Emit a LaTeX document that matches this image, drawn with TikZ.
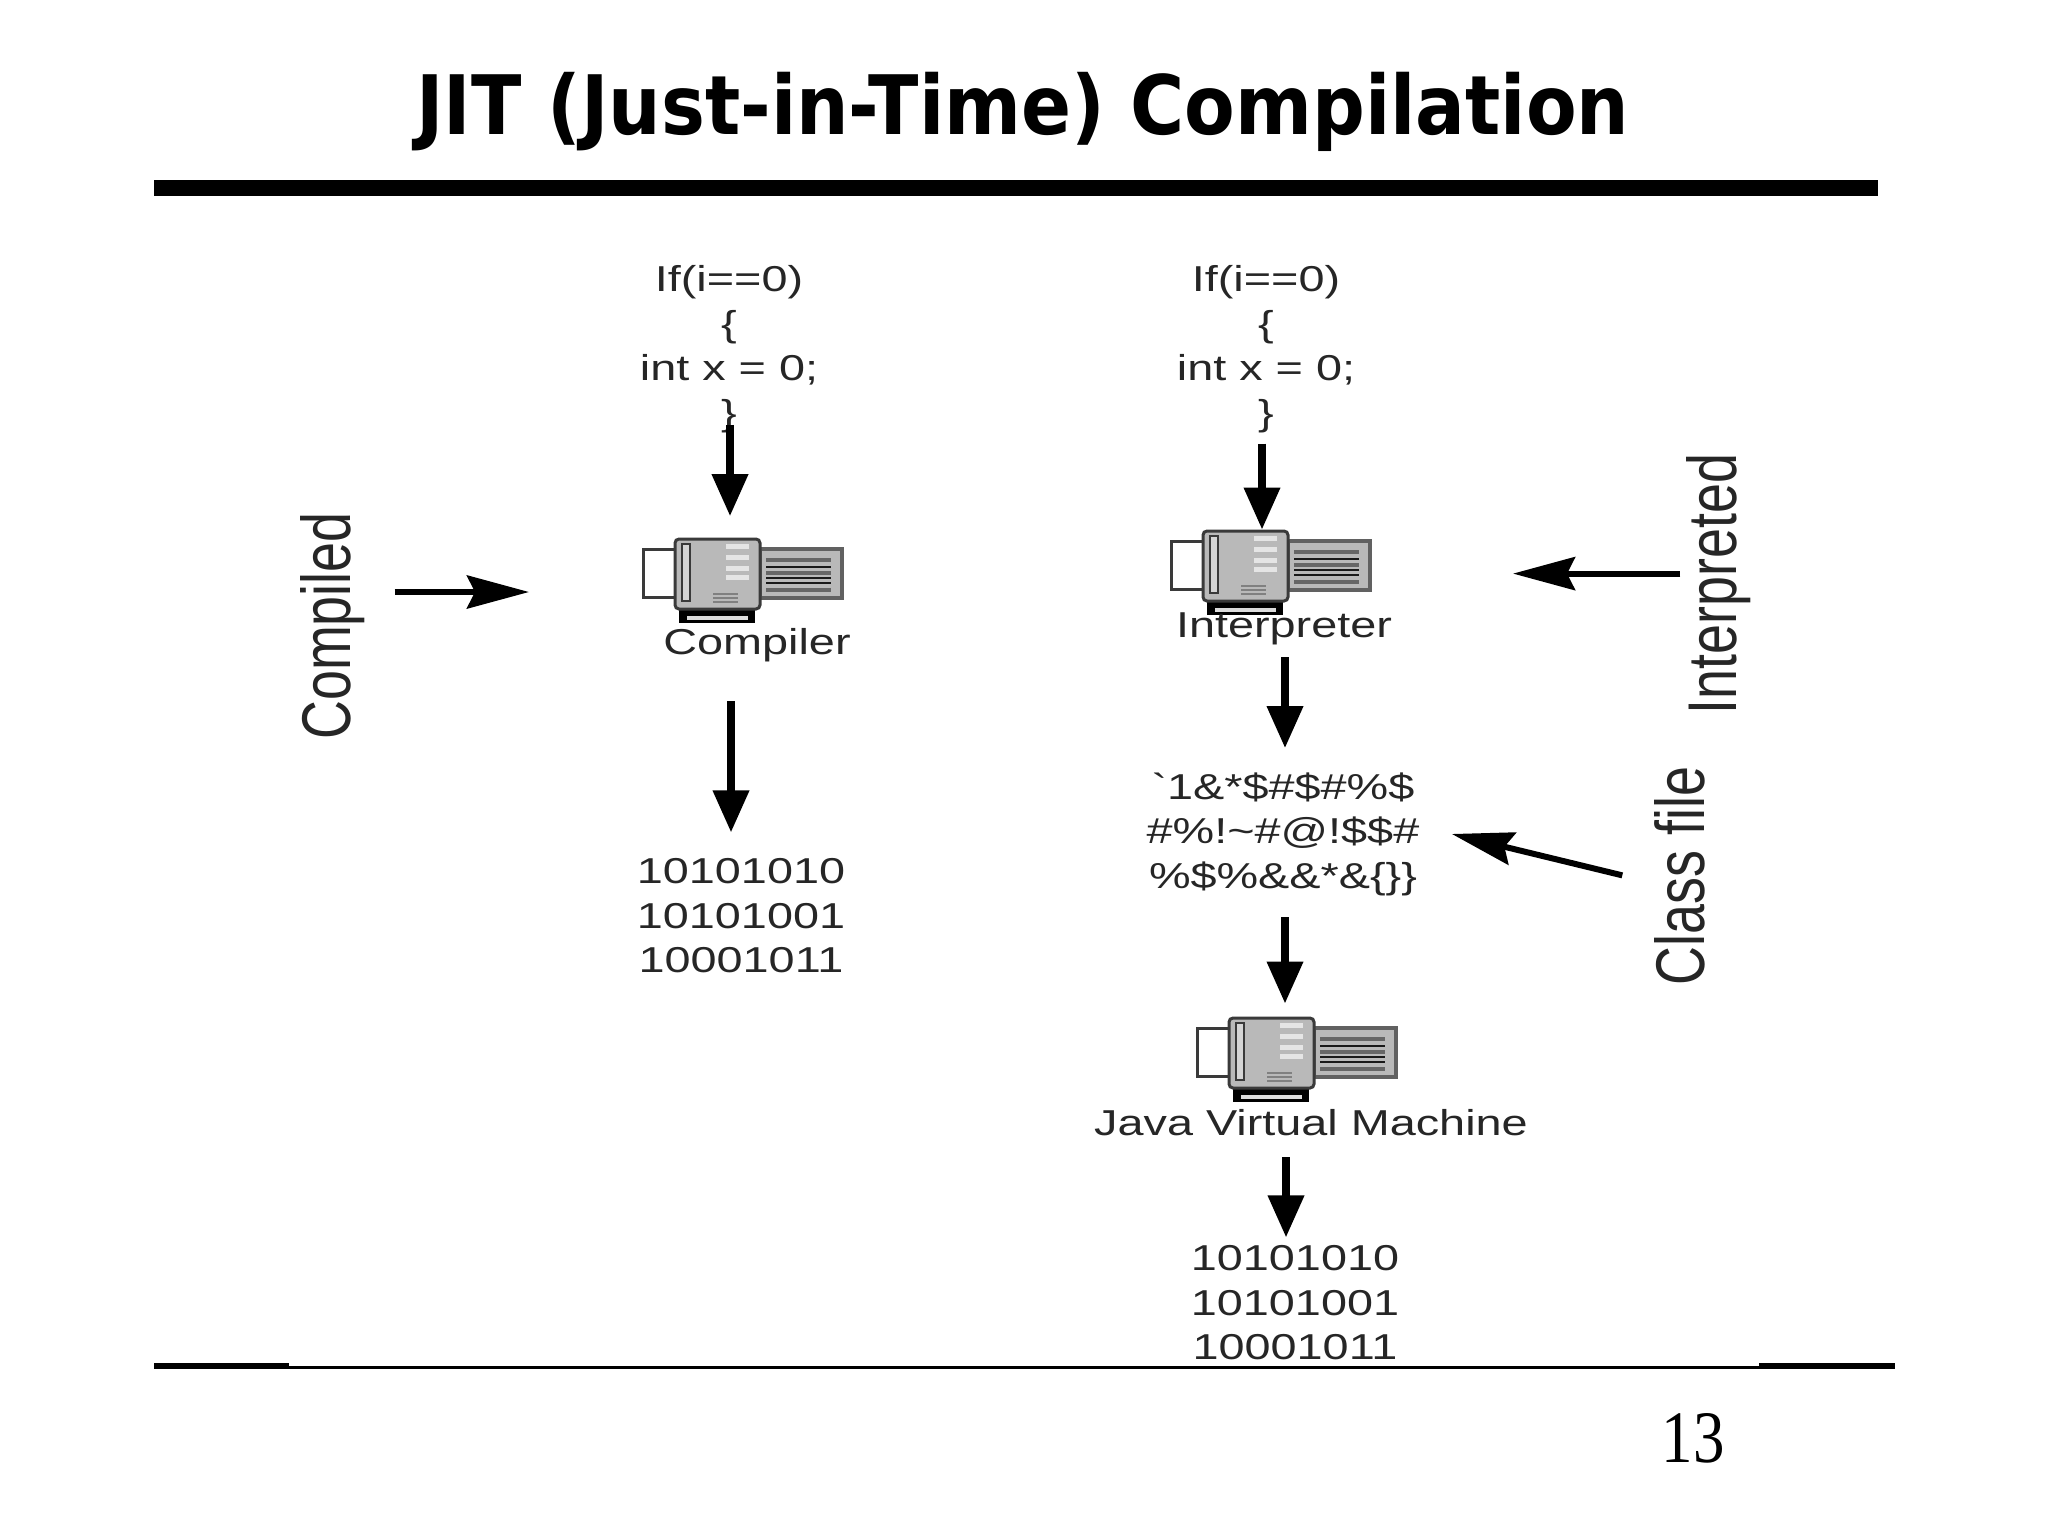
\documentclass[tikz,border=0pt]{standalone}
\usepackage{fontspec}
\usetikzlibrary{arrows.meta}
\setmainfont{Liberation Sans}
\newfontfamily\titlefont{DejaVu Sans}
\newfontfamily\pagefont{Liberation Serif}
\definecolor{faxgray}{HTML}{B9B9B9}
\definecolor{faxedge}{HTML}{3A3A3A}
\tikzset{
	codetext/.style={font=\fontsize{18}{22.25}\selectfont, text=black!85, align=center, inner sep=0pt, xscale=1.3, transform shape},
	sidetext/.style={font=\fontsize{34.5}{34.5}\selectfont, text=black!85, inner sep=0pt, rotate=90, xscale=0.78, transform shape},
	bigarrow/.style={-{Triangle[width=17.5pt,length=21pt]}, line width=3.6pt, black},
	sidearrow/.style={-{Stealth[width=16.5pt,length=31pt,inset=4pt]}, line width=3pt, black},
	pics/faxbox/.style={code={
		% paper
		\draw [line width=1.5pt, faxedge, fill=white] ( 0, 10 ) rectangle ( 38, 58 );
		% tray
		\draw [line width=2pt, faxedge!80, fill=faxgray] ( 117, 10 ) rectangle ( 199, 59 );
		\foreach \ly in { 21, 34, 51 }
			\draw [line width=2pt, black!60] ( 123, \ly ) -- ( 188, \ly );
		\foreach \ly in { 28, 39, 44 }
			\draw [line width=1.1pt, black!90] ( 123, \ly ) -- ( 188, \ly );
		% base
		\fill [black] ( 36, 70 ) rectangle ( 112, 84 );
		\fill [faxgray!50] ( 44, 77 ) rectangle ( 105, 81 );
		% body
		\node [draw=faxedge, line width=1.5pt, fill=faxgray, rounded corners=2pt, minimum width=42.5pt, minimum height=35pt, inner sep=0pt] (-body) at ( 74.5, 35 ) {};
		\draw [line width=1.2pt, faxedge, fill=faxgray!60] ( 39, 5 ) rectangle ( 47, 62 );
		\foreach \ly in { 5, 16, 27, 36 }
			\fill [white!90!black] ( 83, \ly ) rectangle ( 106, \ly + 5 );
		\foreach \ly in { 55, 59, 63 }
			\draw [line width=0.6pt, black!50] ( 70, \ly ) -- ( 95, \ly );
		\coordinate (-left) at ( 0, 34 );
		\coordinate (-right) at ( 199, 34 );
	}}
}
\begin{document}
\begin{tikzpicture}[x=0.5pt, y=-0.5pt]
	\useasboundingbox ( 0, 0 ) rectangle ( 2048, 1536 );

	% title
	\node [inner sep=0pt, xscale=0.9, transform shape, font=\titlefont\bfseries\fontsize{41}{41}\selectfont] (title) at ( 1023, 112 ) {JIT (Just-in-Time) Compilation};
	\fill [black] ( 154, 180 ) rectangle ( 1878, 196 );

	% left column
	\node [codetext] (codeA) at ( 729, 349 ) {If(i==0)\\\{\\int x = 0;\\\}};
	\pic (faxA) at ( 643, 539 ) {faxbox};
	\node [codetext] (compiler) at ( 757, 645 ) {Compiler};
	\node [codetext] (binA) at ( 741, 916 ) {10101010\\10101001\\10001011};

	% right column
	\node [codetext] (codeB) at ( 1266, 349 ) {If(i==0)\\\{\\int x = 0;\\\}};
	\pic (faxB) at ( 1171, 531 ) {faxbox};
	\node [codetext] (interp) at ( 1284, 629 ) {Interpreter};
	\node [codetext] (classT) at ( 1283, 834 ) {\textasciigrave 1\&*\$\#\$\#\%\$\\\#\%!\textasciitilde\#@!\$\$\#\\\%\$\%\&\&*\&\{\}\}};
	\pic (faxC) at ( 1197, 1018 ) {faxbox};
	\node [codetext] (jvm) at ( 1311, 1123 ) {Java Virtual Machine};
	\node [codetext] (binB) at ( 1295, 1303 ) {10101010\\10101001\\10001011};

	% side labels
	\node [sidetext] (lblCompiled) at ( 333, 626 ) {Compiled};
	\node [sidetext] (lblInterp) at ( 1719, 584 ) {Interpreted};
	\node [sidetext] (lblClass) at ( 1679.5, 876 ) {Class file};

	% arrows of the left column
	\draw [bigarrow, shorten <=-4pt, shorten >=10.7pt] ([xshift=0.5pt]codeA.south) -- ([xshift=0.5pt]codeA.south |- faxA-body.north);
	\draw [bigarrow, shorten <=19.5pt, shorten >=13pt] ([xshift=-13pt]compiler.south) -- ([xshift=-5pt]binA.north);

	% arrows of the right column
	\draw [bigarrow, shorten <=5.3pt, shorten >=0pt] ([xshift=-2pt]codeB.south) -- ([xshift=-2pt]codeB.south |- faxB-body.north);
	\draw [bigarrow, shorten <=5.9pt, shorten >=12pt] ([xshift=0.5pt]interp.south) -- ([xshift=0.5pt]interp.south |- classT.north);
	\draw [bigarrow, shorten <=10.6pt, shorten >=6.5pt] ([xshift=1pt]classT.south) -- ([xshift=1pt]classT.south |- faxC-body.north);
	\draw [bigarrow, shorten <=10.3pt, shorten >=4pt] ([xshift=-12.5pt]jvm.south) -- ([xshift=-4.5pt]binB.north);

	% arrows of the side labels
	\draw [sidearrow, shorten <=14.5pt, shorten >=57pt] ([yshift=17pt]lblCompiled.south) -- ([yshift=17pt]lblCompiled.south -| faxA-left);
	\draw [sidearrow, shorten <=3pt, shorten >=71.5pt] ([yshift=5.2pt]lblInterp.north) -- ([yshift=5.2pt]lblInterp.north -| faxB-right);
	\draw [sidearrow, shorten <=16.2pt, shorten >=16.5pt] ([yshift=-3.5pt]lblClass.north) -- ([yshift=3.9pt]classT.east);

	% footer
	\draw [line width=1.5pt] ( 154, 1367 ) -- ( 1895, 1367 );
	\draw [line width=2.6pt] ( 154, 1366 ) -- ( 289, 1366 );
	\draw [line width=2.6pt] ( 1759, 1366 ) -- ( 1895, 1366 );
	\node [inner sep=0pt, xscale=0.85, transform shape, font=\pagefont\fontsize{37}{37}\selectfont] (pageno) at ( 1693, 1438 ) {13};
\end{tikzpicture}
\end{document}
